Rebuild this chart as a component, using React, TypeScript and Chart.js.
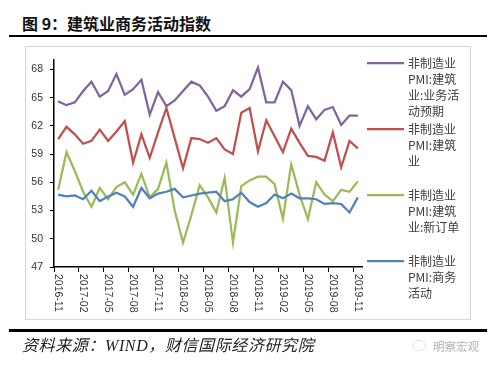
import React, { useEffect, useRef } from 'react';
import { Chart, registerables } from 'chart.js';

Chart.register(...registerables);

const months = [
  '2016-11', '2016-12', '2017-01', '2017-02', '2017-03', '2017-04', '2017-05', '2017-06',
  '2017-07', '2017-08', '2017-09', '2017-10', '2017-11', '2017-12', '2018-01', '2018-02',
  '2018-03', '2018-04', '2018-05', '2018-06', '2018-07', '2018-08', '2018-09', '2018-10',
  '2018-11', '2018-12', '2019-01', '2019-02', '2019-03', '2019-04', '2019-05', '2019-06',
  '2019-07', '2019-08', '2019-09', '2019-10', '2019-11',
];

// 非制造业PMI:建筑业:业务活动预期
const constructionExpectation = [
  64.6, 64.2, 64.5, 65.7, 66.7, 65.1, 65.7, 67.5, 65.3, 65.9, 66.9, 63.2, 65.6, 64.1, 64.7, 65.7,
  66.7, 66.3, 65.1, 63.6, 64.1, 65.8, 65.1, 65.9, 68.2, 64.5, 64.5, 66.7, 65.8, 62.0, 64.1, 62.7,
  63.7, 64.0, 62.1, 63.1, 63.1,
];

// 非制造业PMI:建筑业
const constructionPMI = [
  60.6, 61.9, 61.1, 60.1, 60.4, 61.6, 60.4, 61.4, 62.5, 58.1, 61.1, 58.6, 61.3, 63.9, 60.7, 57.5,
  60.7, 60.6, 60.2, 60.7, 59.5, 59.0, 63.4, 63.9, 59.3, 62.6, 60.9, 59.2, 61.7, 60.2, 58.8, 58.7,
  58.3, 61.3, 57.6, 60.4, 59.6,
];

// 非制造业PMI:建筑业:新订单
const constructionNewOrders = [
  55.2, 59.2, 57.2, 55.0, 53.4, 55.4, 54.2, 55.5, 56.0, 54.7, 56.9, 54.4, 55.3, 58.1, 53.0, 49.6,
  52.5, 55.7, 54.4, 52.8, 56.5, 49.6, 55.6, 56.2, 56.6, 56.6, 55.8, 52.1, 57.9, 54.7, 52.1, 56.0,
  54.7, 54.0, 55.2, 55.0, 56.1,
];

// 非制造业PMI:商务活动
const nonMfgBusiness = [
  54.7, 54.5, 54.6, 54.2, 55.1, 54.0, 54.5, 54.9, 54.5, 53.4, 55.4, 54.3, 54.8, 55.0, 55.3, 54.4,
  54.6, 54.8, 54.9, 55.0, 54.0, 54.2, 54.9, 53.9, 53.4, 53.8, 54.7, 54.3, 54.8, 54.3, 54.3, 54.2,
  53.7, 53.8, 53.7, 52.8, 54.4,
];

const yTickValues = [47, 50, 53, 56, 59, 62, 65, 68];
const yMin = 47;
const yMax = 69;

const legendLabels = [
  ['非制造业', 'PMI:建筑', '业:业务活', '动预期'],
  ['非制造业', 'PMI:建筑', '业'],
  ['非制造业', 'PMI:建筑', '业:新订单'],
  ['非制造业', 'PMI:商务', '活动'],
];

const titleText = '图 9：建筑业商务活动指数';
const sourceText = '资料来源：WIND，财信国际经济研究院';
const watermarkText = '明察宏观';

const COLORS = ['#8064A2', '#C0504D', '#9BBB59', '#4F81BD'];

const overlayPlugin = {
  id: 'overlay',
  afterDraw(chart: any) {
    const { ctx, chartArea, scales } = chart;
    const xs = scales.x;
    ctx.save();
    ctx.fillStyle = '#333333';
    ctx.font = '10.5px "Liberation Sans", Arial, sans-serif';
    ctx.textAlign = 'left';
    ctx.textBaseline = 'middle';
    months.forEach((m, i) => {
      if (i % 3 !== 0) return;
      const x = xs.getPixelForValue(i);
      ctx.save();
      ctx.translate(x, chartArea.bottom + 7);
      ctx.rotate(Math.PI / 2);
      ctx.fillText(m, 0, 0);
      ctx.restore();
    });

    ctx.font = '12px "Noto Sans CJK SC", sans-serif';
    ctx.fillStyle = '#404040';
    legendLabels.forEach((lines, k) => {
      const y0 = 63 + k * 66;
      const x0 = chartArea.right + 5;
      ctx.strokeStyle = COLORS[k];
      ctx.lineWidth = 2.25;
      ctx.beginPath();
      ctx.moveTo(x0, y0);
      ctx.lineTo(x0 + 37, y0);
      ctx.stroke();
      lines.forEach((t, j) => ctx.fillText(t, x0 + 41, y0 + j * 16));
    });
    ctx.restore();
  },
};

export default function App() {
  const canvasRef = useRef<HTMLCanvasElement | null>(null);

  useEffect(() => {
    const canvas = canvasRef.current;
    if (!canvas) return;
    const chart = new Chart(canvas, {
      type: 'line',
      data: {
        labels: months,
        datasets: [
          { label: legendLabels[3].join(''), data: nonMfgBusiness, borderColor: COLORS[3] },
          { label: legendLabels[2].join(''), data: constructionNewOrders, borderColor: COLORS[2] },
          { label: legendLabels[1].join(''), data: constructionPMI, borderColor: COLORS[1] },
          { label: legendLabels[0].join(''), data: constructionExpectation, borderColor: COLORS[0] },
        ].map((d) => ({
          ...d,
          borderWidth: 2.25,
          pointRadius: 0,
          pointHoverRadius: 0,
          tension: 0,
          fill: false,
        })),
      },
      options: {
        responsive: false,
        animation: false,
        maintainAspectRatio: false,
        layout: { padding: { left: 0, top: 60, right: 138, bottom: 0 } },
        plugins: {
          legend: { display: false },
          tooltip: { enabled: false },
          title: { display: false },
        },
        scales: {
          x: {
            type: 'category',
            offset: true,
            afterFit: (scale: any) => {
              scale.height = 105;
            },
            grid: {
              offset: true,
              drawOnChartArea: false,
              drawTicks: true,
              tickLength: 5,
              lineWidth: 1,
              color: (c: any) => (typeof c.index === 'number' && c.index % 3 === 0 ? '#000000' : 'rgba(0,0,0,0)'),
            },
            border: { display: true, color: '#000000', width: 1.5 },
            ticks: {
              autoSkip: false,
              maxRotation: 0,
              minRotation: 0,
              callback: () => '',
            },
          },
          y: {
            type: 'linear',
            min: yMin,
            max: yMax,
            afterFit: (scale: any) => {
              scale.width = 54;
            },
            afterBuildTicks: (scale: any) => {
              scale.ticks = yTickValues.map((v) => ({ value: v }));
            },
            grid: {
              drawOnChartArea: false,
              drawTicks: true,
              tickLength: 4,
              color: '#000000',
              lineWidth: 1,
            },
            border: { display: true, color: '#000000', width: 1.5 },
            ticks: {
              color: '#333333',
              padding: 7,
              font: { family: '"Liberation Sans", Arial, sans-serif', size: 10.5 },
            },
          },
        },
      },
      plugins: [overlayPlugin],
    } as any);
    return () => chart.destroy();
  }, []);

  return (
    <div
      style={{
        position: 'fixed',
        left: 0,
        top: 0,
        width: 500,
        height: 372,
        background: '#ffffff',
        overflow: 'hidden',
      }}
    >
      <div
        style={{
          position: 'absolute',
          left: 22,
          top: 13,
          fontFamily: '"Noto Sans CJK SC", sans-serif',
          fontWeight: 700,
          fontSize: 16,
          lineHeight: '21px',
          color: '#111111',
          whiteSpace: 'nowrap',
        }}
      >
        {titleText}
      </div>
      <div style={{ position: 'absolute', left: 9, top: 35, width: 478, height: 2, background: '#000000' }} />
      <div
        style={{
          position: 'absolute',
          left: 25,
          top: 46,
          width: 446,
          height: 274,
          border: '1px solid #d6d6d6',
          boxSizing: 'border-box',
          background: '#ffffff',
        }}
      />
      <canvas
        ref={canvasRef}
        width={500}
        height={372}
        style={{ position: 'absolute', left: 0, top: 0, width: 500, height: 372 }}
      />
      <div style={{ position: 'absolute', left: 9, top: 329, width: 478, height: 2.5, background: '#000000' }} />
      <div
        style={{
          position: 'absolute',
          left: 22,
          top: 336,
          fontFamily: '"Liberation Serif", "Noto Sans CJK SC", serif',
          fontStyle: 'italic',
          fontSize: 16,
          letterSpacing: '0.6px',
          lineHeight: '20px',
          color: '#222222',
          whiteSpace: 'nowrap',
        }}
      >
        {sourceText}
      </div>
      <div
        style={{
          position: 'absolute',
          left: 412,
          top: 340,
          width: 14,
          height: 11,
          borderRadius: '50%',
          border: '1.5px dotted #c8c8c8',
          boxSizing: 'border-box',
        }}
      />
      <div
        style={{
          position: 'absolute',
          left: 433,
          top: 338,
          fontFamily: '"Noto Sans CJK SC", sans-serif',
          fontSize: 11.5,
          lineHeight: '16px',
          color: '#b0b0b0',
          whiteSpace: 'nowrap',
        }}
      >
        {watermarkText}
      </div>
    </div>
  );
}
